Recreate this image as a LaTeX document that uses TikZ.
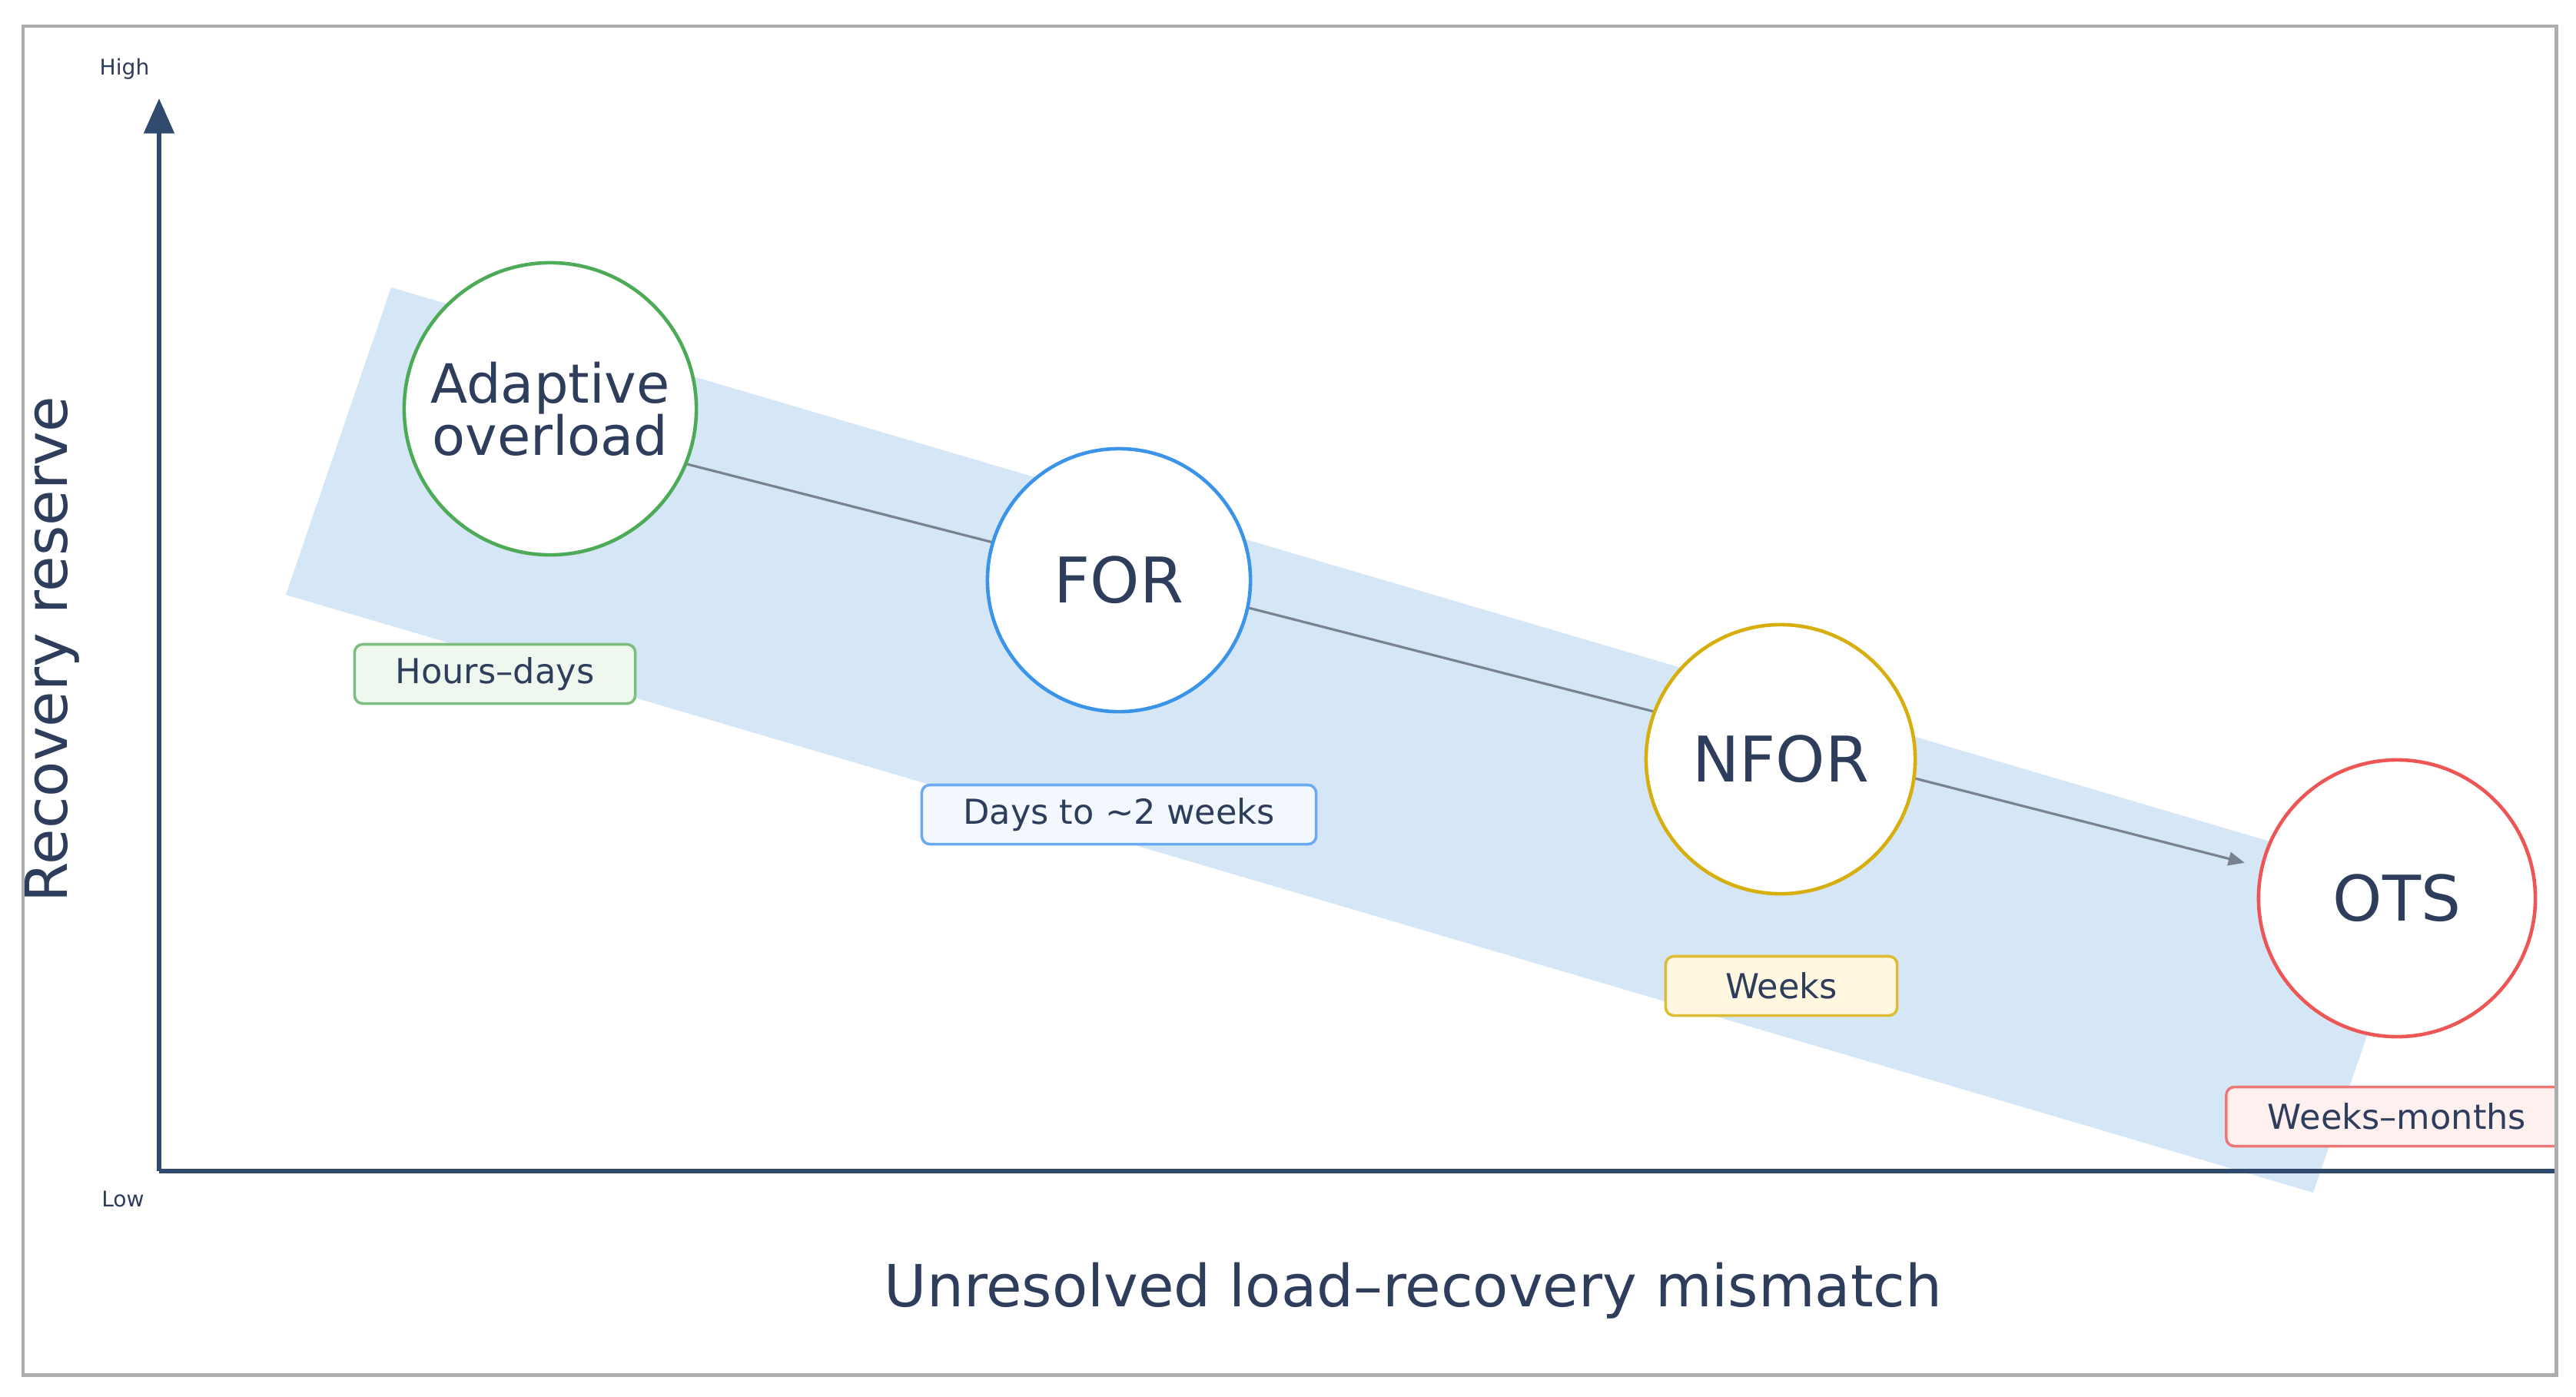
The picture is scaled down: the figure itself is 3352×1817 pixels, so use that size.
\documentclass[tikz,border=0pt]{standalone}
\usepackage{fontspec}
\setmainfont{DejaVu Sans}
\usetikzlibrary{arrows.meta}
\pgfdeclarelayer{bandlayer}
\pgfdeclarelayer{connlayer}
\pgfsetlayers{bandlayer,connlayer,main}
\definecolor{axisc}{HTML}{2F4A6D}
\definecolor{txtc}{HTML}{2E3D5C}
\definecolor{framec}{HTML}{ADADAD}
\definecolor{bandc}{HTML}{D5E7F6}
\definecolor{connc}{HTML}{7A8290}
\definecolor{cgreen}{HTML}{4DAA57}
\definecolor{cblue}{HTML}{3C94E8}
\definecolor{cgold}{HTML}{D6AE0E}
\definecolor{cred}{HTML}{EE5555}
\definecolor{fgreen}{HTML}{EEF8EE}
\definecolor{fblue}{HTML}{F3F8FE}
\definecolor{fgold}{HTML}{FFF7E0}
\definecolor{fred}{HTML}{FFF0F0}
\definecolor{bgreen}{HTML}{7DBE7F}
\definecolor{bblue}{HTML}{6AAAF0}
\definecolor{bgold}{HTML}{DDBB33}
\definecolor{bred}{HTML}{EE7777}
\tikzset{
  stagecirc/.style={circle, draw, line width=1.3pt, fill=white, inner sep=0pt, text=txtc, align=center},
  durbox/.style={rounded corners=3pt, draw, line width=1pt, minimum height=0.77cm, inner sep=0pt, text=txtc, font=\fontsize{12.7}{15}\selectfont},
  axisline/.style={draw=axisc, line width=1.8pt},
  conn/.style={draw=connc, line width=0.9pt, -{Triangle[length=6pt,width=5pt]}},
  axlab/.style={text=txtc, font=\fontsize{21.5}{26}\selectfont},
  smalllab/.style={text=txtc, font=\fontsize{8}{10}\selectfont}
}
\begin{document}
\begin{tikzpicture}[x=0.01cm,y=-0.01cm]
\useasboundingbox (0,0) rectangle (3352,1817);
\begin{pgfonlayer}{bandlayer}
\fill[white] (0,0) rectangle (3352,1817);
\fill[bandc] (509,374) -- (3147,1152) -- (3010,1552) -- (372,774) -- cycle;
\end{pgfonlayer}
\begin{scope}
\clip (30,34) rectangle (3326,1789);
% axes
\coordinate (orig) at (207,1524);
\coordinate (ytop) at (207,128);
\coordinate (xend) at (3340,1524);
\draw[axisline, -{Triangle[length=13pt,width=11pt]}] (orig) -- (ytop);
\draw[axisline] (orig) -- (xend);
\node[smalllab] (high) at (162,90) {High};
\node[smalllab] (low) at (160,1560) {Low};
\node[axlab, rotate=90] (ylab) at (68,845) {Recovery reserve};
\node[axlab] (xlab) at (1839,1680) {Unresolved load–recovery mismatch};
% stages
\node[stagecirc, draw=cgreen, minimum size=3.8cm, font=\fontsize{20}{19.4}\selectfont] (adapt) at (716,532) {Adaptive\\overload};
\node[stagecirc, draw=cblue, minimum size=3.42cm, font=\fontsize{23.3}{28}\selectfont] (for) at (1456,755) {FOR};
\node[stagecirc, draw=cgold, minimum size=3.5cm, font=\fontsize{23.3}{28}\selectfont] (nfor) at (2317,988) {NFOR};
\node[stagecirc, draw=cred, minimum size=3.6cm, font=\fontsize{23.3}{28}\selectfont] (ots) at (3119,1169) {OTS};
% durations
\node[durbox, draw=bgreen, fill=fgreen, minimum width=3.65cm] (hd) at (644,877) {Hours–days};
\node[durbox, draw=bblue, fill=fblue, minimum width=5.13cm] (d2w) at (1456,1060) {Days to \textasciitilde2 weeks};
\node[durbox, draw=bgold, fill=fgold, minimum width=3.01cm] (wk) at (2318,1283) {Weeks};
\node[durbox, draw=bred, fill=fred, minimum width=4.44cm] (wm) at (3119,1453) {Weeks–months};
\end{scope}
\begin{pgfonlayer}{connlayer}
\draw[conn, shorten >=6pt] (adapt.-22) -- (ots.167);
\end{pgfonlayer}
% frame
\draw[framec, line width=1.4pt] (30,34) rectangle (3326,1789);
\end{tikzpicture}
\end{document}
